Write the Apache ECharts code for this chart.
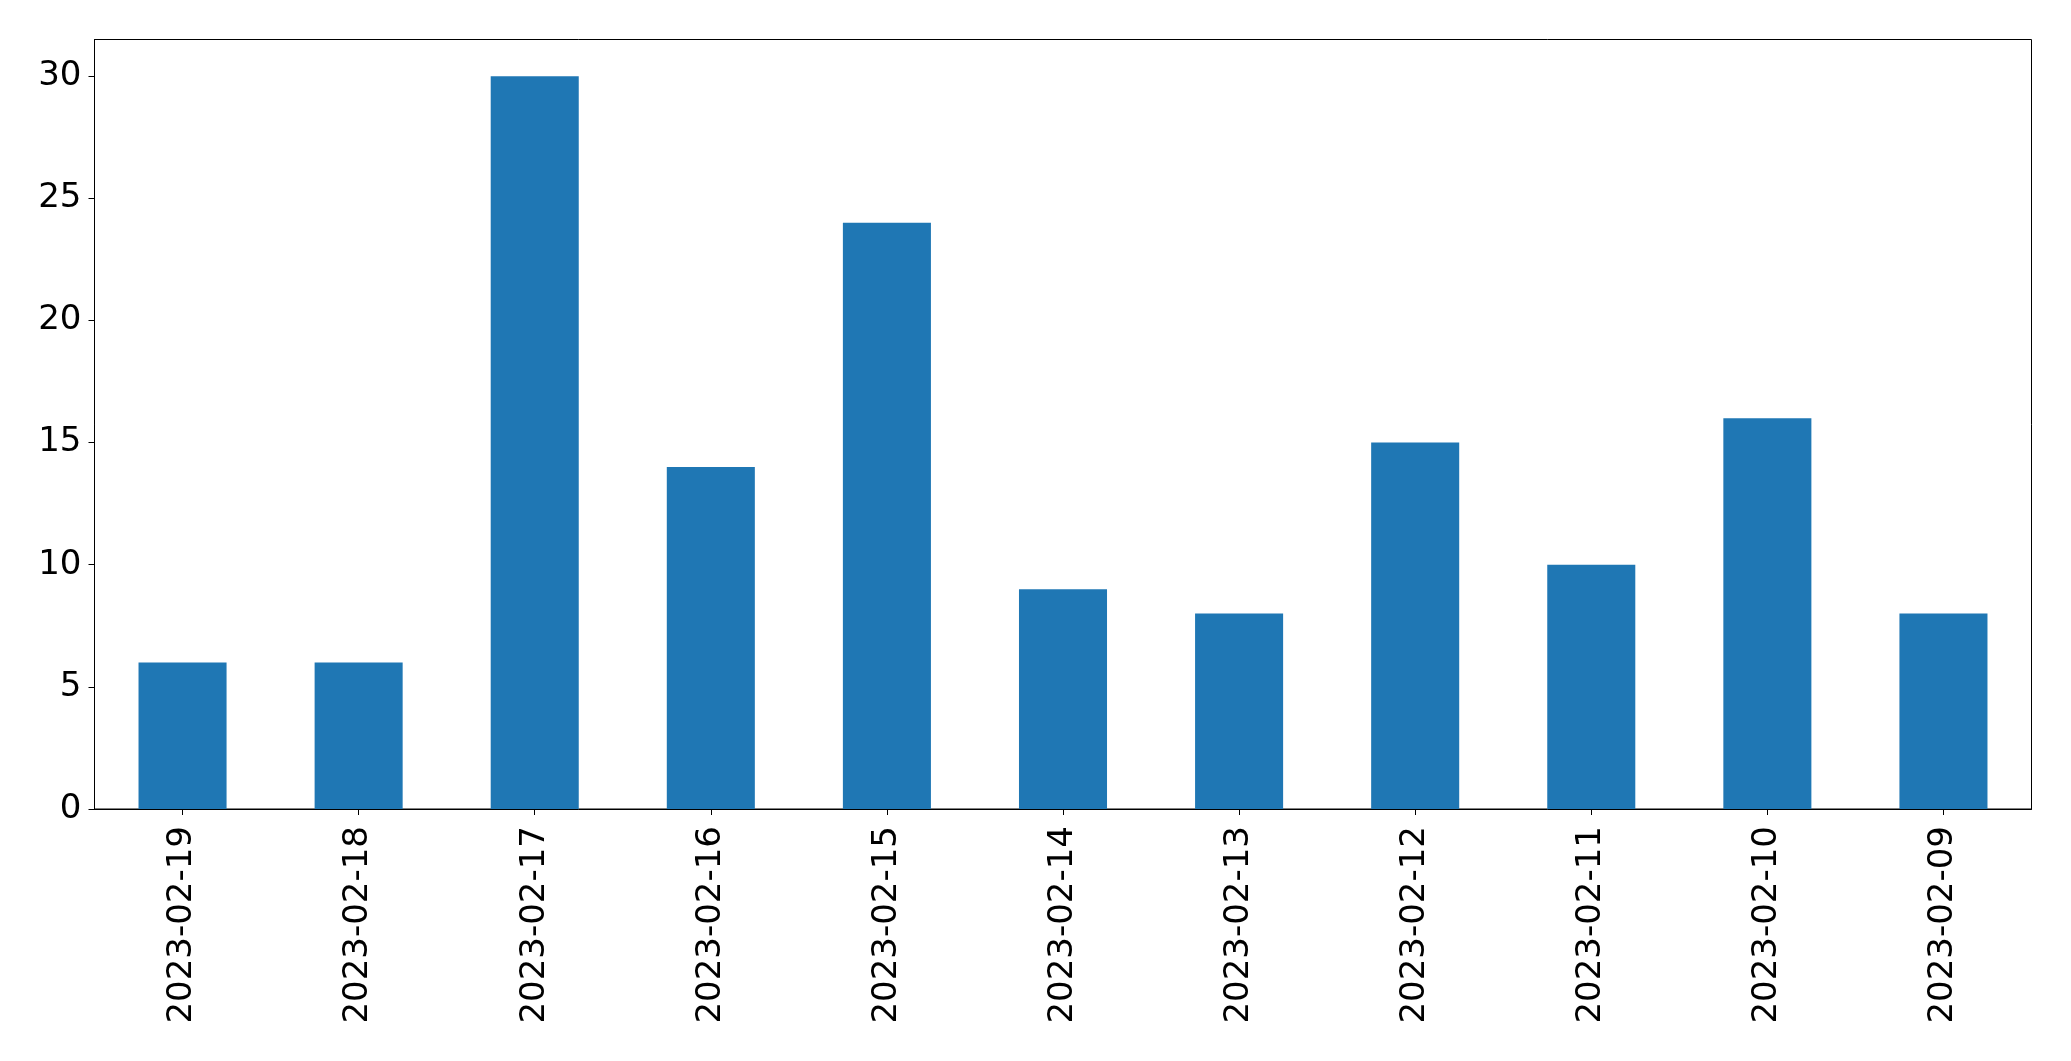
<!DOCTYPE html>
<html>
<head>
<meta charset="utf-8">
<script src="https://cdn.jsdelivr.net/npm/echarts@6/dist/echarts.min.js"></script>
<style>
html,body{margin:0;padding:0;background:#fff;}
#chart{width:2071px;height:1061px;}
</style>
</head>
<body>
<div id="chart"></div>
<script>
const categories = ['2023-02-19','2023-02-18','2023-02-17','2023-02-16','2023-02-15','2023-02-14','2023-02-13','2023-02-12','2023-02-11','2023-02-10','2023-02-09'];
const values = [6, 6, 30, 14, 24, 9, 8, 15, 10, 16, 8];
const yTicks = [0, 5, 10, 15, 20, 25, 30];

const chart = echarts.init(document.getElementById('chart'), null, {renderer: 'canvas'});
chart.setOption({
  animation: false,
  backgroundColor: '#fff',
  textStyle: {fontFamily: 'DejaVu Sans'},
  grid: {
    left: 94.5, right: 39.5, top: 39.5, bottom: 252,
    show: true, borderColor: '#000', borderWidth: 1, backgroundColor: 'transparent'
  },
  xAxis: {
    type: 'category',
    data: categories,
    boundaryGap: true,
    axisLine: {show: true, lineStyle: {color: '#000', width: 1}},
    axisTick: {show: true, alignWithLabel: true, length: 6, lineStyle: {color: '#000', width: 1}},
    axisLabel: {rotate: 90, fontSize: 34, color: '#000', margin: 17, fontFamily: 'DejaVu Sans'},
    splitLine: {show: false}
  },
  yAxis: {
    type: 'value',
    min: 0, max: 31.5, interval: 5,
    axisLine: {show: true, lineStyle: {color: '#000', width: 1}},
    axisTick: {show: true, length: 6, lineStyle: {color: '#000', width: 1}, customValues: yTicks},
    axisLabel: {fontSize: 34, color: '#000', margin: 13, fontFamily: 'DejaVu Sans', customValues: yTicks},
    splitLine: {show: false}
  },
  series: [{
    type: 'bar',
    data: values,
    barWidth: '50%',
    itemStyle: {color: '#1f77b4'}
  }]
});
</script>
</body>
</html>
